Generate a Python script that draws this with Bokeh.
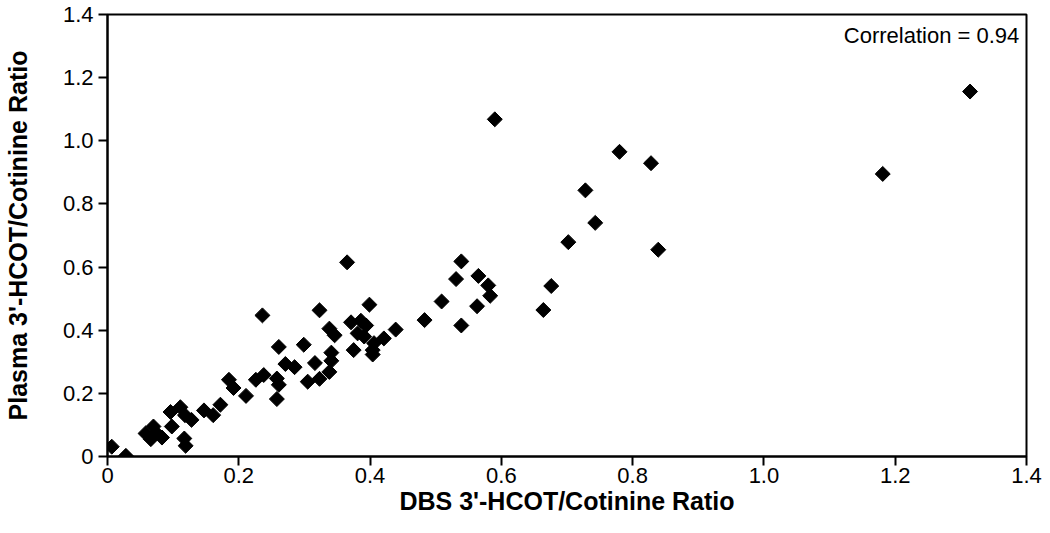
import math
from bokeh.plotting import figure
from bokeh.models import Range1d, FixedTicker, Label
from bokeh.embed import file_html
from bokeh.resources import INLINE

# ---- data ----
dbs_ratio = [
    0.0065, 0.028, 0.058, 0.070, 0.066, 0.074, 0.083, 0.098, 0.096, 0.111,
    0.118, 0.128, 0.117, 0.119, 0.147, 0.161, 0.172, 0.185, 0.192, 0.211,
    0.226, 0.238, 0.258, 0.261, 0.258,
    0.236, 0.323, 0.399, 0.371, 0.386, 0.394, 0.338, 0.346, 0.381, 0.391,
    0.421, 0.439, 0.406, 0.261, 0.299, 0.375, 0.404, 0.404, 0.341, 0.271,
    0.285, 0.316, 0.341, 0.338, 0.323, 0.305,
    0.365,
    0.664, 0.539, 0.531, 0.565, 0.580, 0.583, 0.563, 0.539, 0.509, 0.483,
    0.780, 0.828, 0.728, 0.743, 0.702, 0.839, 0.676, 1.181,
    0.590, 1.314,
]
plasma_ratio = [
    0.031, 0.002, 0.073, 0.095, 0.055, 0.075, 0.060, 0.095, 0.141, 0.156,
    0.131, 0.116, 0.057, 0.034, 0.146, 0.131, 0.164, 0.243, 0.217, 0.192,
    0.243, 0.258, 0.247, 0.227, 0.182,
    0.447, 0.463, 0.481, 0.425, 0.430, 0.415, 0.405, 0.384, 0.390, 0.380,
    0.374, 0.402, 0.359, 0.347, 0.354, 0.337, 0.337, 0.323, 0.329, 0.293,
    0.283, 0.296, 0.303, 0.268, 0.246, 0.237,
    0.615,
    0.464, 0.618, 0.562, 0.572, 0.542, 0.509, 0.476, 0.415, 0.491, 0.432,
    0.965, 0.929, 0.843, 0.740, 0.679, 0.655, 0.540, 0.895,
    1.068, 1.156,
]
tick_values = [0, 0.2, 0.4, 0.6, 0.8, 1.0, 1.2, 1.4]
tick_labels = ["0", "0.2", "0.4", "0.6", "0.8", "1.0", "1.2", "1.4"]
x_title = "DBS 3'-HCOT/Cotinine Ratio"
y_title = "Plasma 3'-HCOT/Cotinine Ratio"
annotation_text = "Correlation = 0.94"
annotation_pos = (1.389, 1.333)

FONT = "Liberation Sans"

p = figure(width=1042, height=517, output_backend="svg", toolbar_location=None,
           x_range=Range1d(0, 1.4), y_range=Range1d(0, 1.4),
           min_border_left=103, min_border_right=16, min_border_top=14,
           min_border_bottom=57)
p.background_fill_color = "white"
p.border_fill_color = "white"
p.outline_line_color = "black"
p.outline_line_width = 2
p.grid.visible = False

for ax in (p.xaxis[0], p.yaxis[0]):
    ax.ticker = FixedTicker(ticks=tick_values)
    ax.major_label_overrides = {v: l for v, l in zip(tick_values, tick_labels)}
    ax.minor_tick_line_color = None
    ax.major_tick_in = 0
    ax.major_tick_out = 9
    ax.major_tick_line_width = 2
    ax.axis_line_width = 2
    ax.axis_line_color = "black"
    ax.major_tick_line_color = "black"
    ax.major_label_text_font = FONT
    ax.major_label_text_font_size = "22px"
    ax.major_label_text_color = "black"
    ax.axis_label_text_font = FONT
    ax.axis_label_text_font_size = "25px"
    ax.axis_label_text_font_style = "bold"
    ax.axis_label_text_color = "black"

p.xaxis.axis_label = x_title
p.yaxis.axis_label = y_title
p.xaxis.major_label_standoff = 2
p.xaxis.axis_label_standoff = 1
p.yaxis.major_label_standoff = 5
p.yaxis.axis_label_standoff = 28

p.scatter(dbs_ratio, plasma_ratio, marker="square", size=10.6, angle=math.pi / 4,
          fill_color="black", line_color="black")

p.add_layout(Label(x=annotation_pos[0], y=annotation_pos[1], text=annotation_text,
                   text_align="right", text_baseline="middle",
                   text_font=FONT, text_font_size="22px", text_color="black"))

open("out.html", "w").write(file_html(p, INLINE))
